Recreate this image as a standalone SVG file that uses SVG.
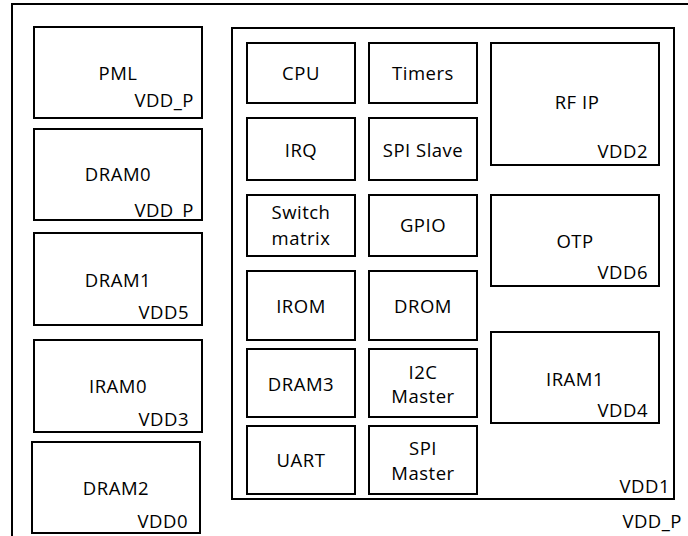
<svg xmlns="http://www.w3.org/2000/svg" width="688" height="536" viewBox="0 0 688 536">
<style>
rect{fill:#fff;stroke:#000;stroke-width:2}
text{font-family:"Open Sans","Liberation Sans",sans-serif;font-size:18.5px;fill:#000;letter-spacing:0.5px}
.c{text-anchor:middle}
.r{text-anchor:end}
</style>
<rect x="0" y="0" width="688" height="536" style="stroke:none"/>
<g id="chip">
<rect x="12" y="4" width="700" height="560"/>
<text class="r" x="682" y="528">VDD_P</text>
</g>
<g id="PML"><rect x="34" y="27" width="168" height="91"/><text class="c" x="118" y="80">PML</text><text class="r" x="194" y="107">VDD_P</text></g>
<g id="DRAM0"><rect x="34" y="129" width="168" height="91"/><text class="c" x="118" y="181">DRAM0</text><text class="r" x="194" y="217">VDD_P</text></g>
<g id="DRAM1"><rect x="34" y="233" width="168" height="92"/><text class="c" x="118" y="287">DRAM1</text><text class="r" x="189" y="319">VDD5</text></g>
<g id="IRAM0"><rect x="34" y="340" width="168" height="92"/><text class="c" x="118" y="393">IRAM0</text><text class="r" x="189" y="426">VDD3</text></g>
<g id="DRAM2"><rect x="32" y="442" width="168" height="91"/><text class="c" x="116" y="495">DRAM2</text><text class="r" x="188" y="528">VDD0</text></g>
<g id="core">
<rect x="232" y="28" width="442" height="471"/>
<text class="r" x="670" y="493">VDD1</text>
</g>
<g id="CPU"><rect x="247" y="43" width="108" height="60"/><text class="c" x="301" y="80">CPU</text></g>
<g id="Timers"><rect x="369" y="43" width="108" height="60"/><text class="c" x="423" y="80">Timers</text></g>
<g id="IRQ"><rect x="247" y="118" width="108" height="62"/><text class="c" x="301" y="157">IRQ</text></g>
<g id="SPISlave"><rect x="369" y="118" width="108" height="62"/><text class="c" x="423" y="157">SPI Slave</text></g>
<g id="SwitchMatrix"><rect x="247" y="195" width="108" height="61"/><text class="c" x="301" y="219">Switch</text><text class="c" x="301" y="245">matrix</text></g>
<g id="GPIO"><rect x="369" y="195" width="108" height="61"/><text class="c" x="423" y="232">GPIO</text></g>
<g id="IROM"><rect x="247" y="271" width="108" height="69"/><text class="c" x="301" y="313">IROM</text></g>
<g id="DROM"><rect x="369" y="271" width="108" height="69"/><text class="c" x="423" y="313">DROM</text></g>
<g id="DRAM3"><rect x="247" y="349" width="108" height="68"/><text class="c" x="301" y="391">DRAM3</text></g>
<g id="I2CMaster"><rect x="369" y="349" width="108" height="68"/><text class="c" x="423" y="379">I2C</text><text class="c" x="423" y="403">Master</text></g>
<g id="UART"><rect x="247" y="426" width="108" height="68"/><text class="c" x="301" y="467">UART</text></g>
<g id="SPIMaster"><rect x="369" y="426" width="108" height="68"/><text class="c" x="423" y="455">SPI</text><text class="c" x="423" y="480">Master</text></g>
<g id="RFIP"><rect x="491" y="43" width="168" height="122"/><text class="c" x="577" y="109">RF IP</text><text class="r" x="648" y="158">VDD2</text></g>
<g id="OTP"><rect x="491" y="195" width="168" height="91"/><text class="c" x="575" y="248">OTP</text><text class="r" x="648" y="279">VDD6</text></g>
<g id="IRAM1"><rect x="491" y="332" width="168" height="91"/><text class="c" x="575" y="386">IRAM1</text><text class="r" x="648" y="417">VDD4</text></g>
<g id="connectors"></g>
</svg>
